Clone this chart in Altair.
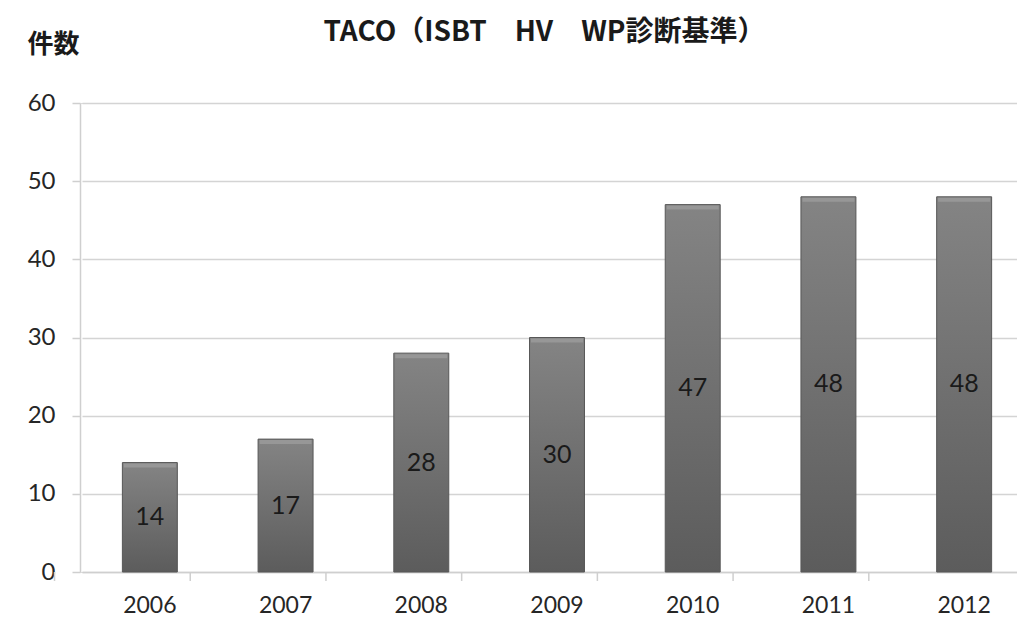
import altair as alt
import pandas as pd

years = ["2006", "2007", "2008", "2009", "2010", "2011", "2012"]
counts = [14, 17, 28, 30, 47, 48, 48]
y_ticks = [0, 10, 20, 30, 40, 50, 60]
title_text = "TACO（ISBT　HV　WP診断基準）"
y_title = "件数"

df = pd.DataFrame({"year": years, "count": counts})

W, H = 937, 469
STEP = 950 / 7

xscale = alt.Scale(domain=years, range=[2, 952], paddingInner=0.595, paddingOuter=0.2975)
yscale = alt.Scale(domain=[0, 60], nice=False, zero=True)

x_enc = alt.X("year:N", scale=xscale, sort=years,
              axis=alt.Axis(title=None, ticks=False, labelAngle=0, labelPadding=22,
                            labelFont="Lato", labelFontSize=23, labelColor="#262626",
                            domainColor="#cfcfcf", domainWidth=1.5, grid=False))

y_enc = alt.Y("count:Q", scale=yscale,
              axis=alt.Axis(values=y_ticks, grid=True, gridColor="#d4d4d4", gridWidth=1.5,
                            domainColor="#cfcfcf", domainWidth=1.5,
                            tickColor="#cfcfcf", tickSize=8, tickWidth=1.5,
                            labelPadding=17, labelFont="Lato", labelFontSize=24,
                            labelColor="#262626",
                            title=y_title, titleAngle=0, titleX=-53, titleY=-59,
                            titleAlign="left", titleBaseline="middle",
                            titleFont="Noto Sans CJK JP", titleFontSize=26,
                            titleFontWeight="bold", titleColor="#1a1a1a"))

grad = alt.Gradient(gradient="linear", x1=0, x2=0, y1=0, y2=1,
                    stops=[alt.GradientStop(offset=0, color="#848484"),
                           alt.GradientStop(offset=1, color="#5c5c5c")])

bars = alt.Chart(df).mark_bar(fill=grad, stroke="#575757", strokeWidth=1).encode(
    x=x_enc, y=y_enc)

highlight = alt.Chart(df).mark_tick(color="#a0a0a0", thickness=4, size=52, yOffset=3).encode(
    x=alt.X("year:N", scale=xscale, sort=years), y=alt.Y("count:Q", scale=yscale))

labels = alt.Chart(df).transform_calculate(mid="datum.count / 2").mark_text(
    font="Lato", fontSize=25, color="#1a1a1a", baseline="middle", align="center"
).encode(
    x=alt.X("year:N", scale=xscale, sort=years),
    y=alt.Y("mid:Q", scale=yscale),
    text=alt.Text("count:Q"))

xticks = alt.Chart(df).mark_rule(color="#cfcfcf", strokeWidth=1.5).encode(
    x=alt.X("year:N", scale=xscale, sort=years),
    xOffset=alt.value(-STEP / 2),
    y=alt.value(H), y2=alt.value(H + 9))

chart = alt.layer(bars, highlight, labels, xticks).properties(
    width=W, height=H,
    title=alt.TitleParams(text=title_text, font="Noto Sans CJK JP", fontSize=28,
                          fontWeight="bold", color="#1a1a1a", anchor="middle",
                          dx=-4, dy=16, offset=0),
    padding={"left": 72, "top": 95, "right": 0, "bottom": 50},
    autosize=alt.AutoSizeParams(type="none"),
).configure_view(stroke=None).configure(background="white")

chart.save("out.html", embed_options={"renderer": "svg", "actions": False})
